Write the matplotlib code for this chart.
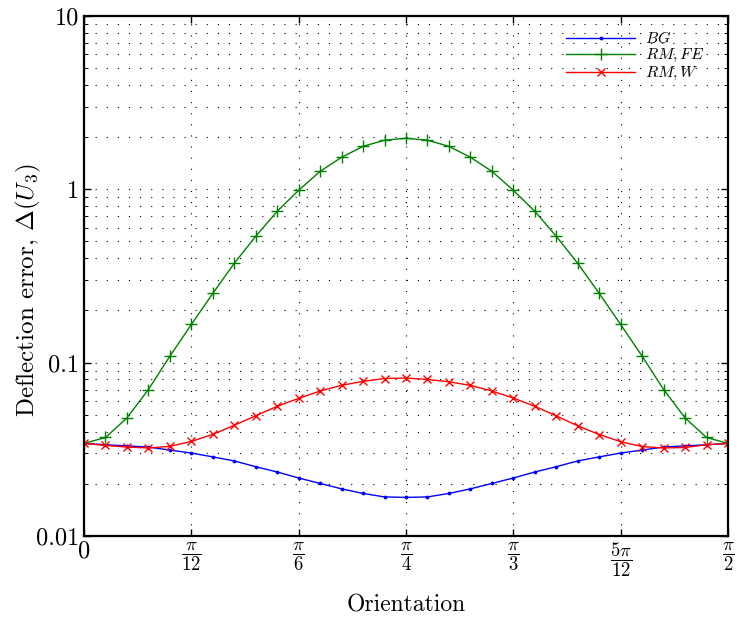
import numpy as np
import matplotlib
matplotlib.use('Agg')
import matplotlib.pyplot as plt
from matplotlib.ticker import FixedLocator, FixedFormatter, LogLocator, NullFormatter

plt.rcParams['font.family'] = 'serif'
plt.rcParams['font.serif'] = ['cmr10', 'DejaVu Serif']
plt.rcParams['mathtext.fontset'] = 'cm'
plt.rcParams['axes.formatter.use_mathtext'] = True

# orientation steps (multiples of pi/60)
steps = list(range(31))

bg = [0.0342, 0.0336, 0.0331, 0.0326, 0.0313, 0.0301, 0.0286, 0.0271, 0.0251, 0.0234,
      0.0216, 0.0201, 0.0187, 0.0176, 0.0168, 0.0167, 0.0168, 0.0176, 0.0187, 0.0201,
      0.0216, 0.0234, 0.0251, 0.0271, 0.0286, 0.0301, 0.0313, 0.0326, 0.0331, 0.0336, 0.0342]
rm_fe = [0.0342, 0.037, 0.048, 0.070, 0.109, 0.166, 0.251, 0.374, 0.536, 0.747,
         0.987, 1.27, 1.53, 1.77, 1.92, 1.97, 1.92, 1.77, 1.53, 1.27,
         0.987, 0.747, 0.536, 0.374, 0.251, 0.166, 0.109, 0.070, 0.048, 0.037, 0.0342]
rm_w = [0.0342, 0.0333, 0.0326, 0.0322, 0.0329, 0.0351, 0.0386, 0.0435, 0.0494, 0.056,
        0.0622, 0.0686, 0.074, 0.078, 0.081, 0.0815, 0.080, 0.0775, 0.074, 0.0686,
        0.0625, 0.056, 0.0493, 0.0432, 0.0385, 0.035, 0.0328, 0.0322, 0.0324, 0.0336, 0.0342]

xtick_labels = [r'$0$', r'$\dfrac{\pi}{12}$', r'$\dfrac{\pi}{6}$', r'$\dfrac{\pi}{4}$',
                r'$\dfrac{\pi}{3}$', r'$\dfrac{5\pi}{12}$', r'$\dfrac{\pi}{2}$']
ytick_labels = ['0.01', '0.1', '1', '10']

x = np.array(steps) * np.pi / 60

fig = plt.figure(figsize=(7.39, 6.19), dpi=100)
ax = fig.add_axes([0.1137, 0.1341, 0.8714, 0.8401])

ax.plot(x, bg, 'b.-', lw=1, ms=3.5, label=r'$BG$')
ax.plot(x, rm_fe, 'g+-', lw=1, ms=8, mew=1, label=r'$RM, FE$')
ax.plot(x, rm_w, 'rx-', lw=1, ms=5.5, mew=1, label=r'$RM, W$')

ax.set_yscale('log')
ax.set_ylim(0.01, 10)
ax.set_xlim(0, np.pi / 2)

ax.xaxis.set_major_locator(FixedLocator(np.arange(7) * np.pi / 12))
ax.xaxis.set_major_formatter(FixedFormatter(xtick_labels))
ax.yaxis.set_major_locator(FixedLocator([0.01, 0.1, 1, 10]))
ax.yaxis.set_major_formatter(FixedFormatter(ytick_labels))
ax.yaxis.set_minor_locator(LogLocator(base=10, subs=np.arange(2, 10)))
ax.yaxis.set_minor_formatter(NullFormatter())

ax.tick_params(which='both', direction='in', top=True, right=True)
ax.tick_params(axis='y', labelsize=17.5)
ax.tick_params(axis='x', labelsize=13.5, pad=3)
ax.tick_params(which='major', length=5, width=1)
ax.tick_params(which='minor', length=3, width=0.7)
for i, lab in enumerate(ax.get_xticklabels()):
    if i == 0:
        lab.set_fontsize(17.5)

dots = (0, (1, 9))
ax.grid(True, which='major', axis='both', color='k', linestyle=dots, linewidth=0.8)
ax.grid(True, which='minor', axis='y', color='k', linestyle=dots, linewidth=0.8)

for s in ax.spines.values():
    s.set_linewidth(1.6)

ax.set_xlabel('Orientation', fontsize=17, labelpad=11)
ax.set_ylabel(r'Deflection error, $\Delta(U_3)$', fontsize=18)
ax.yaxis.set_label_coords(-0.064, 0.473)

ax.legend(loc='upper right', fontsize=11.5, frameon=False, handlelength=4.3,
          bbox_to_anchor=(0.985, 1.0), labelspacing=0.05, handletextpad=0.6)

fig.savefig('out.png', dpi=100)
